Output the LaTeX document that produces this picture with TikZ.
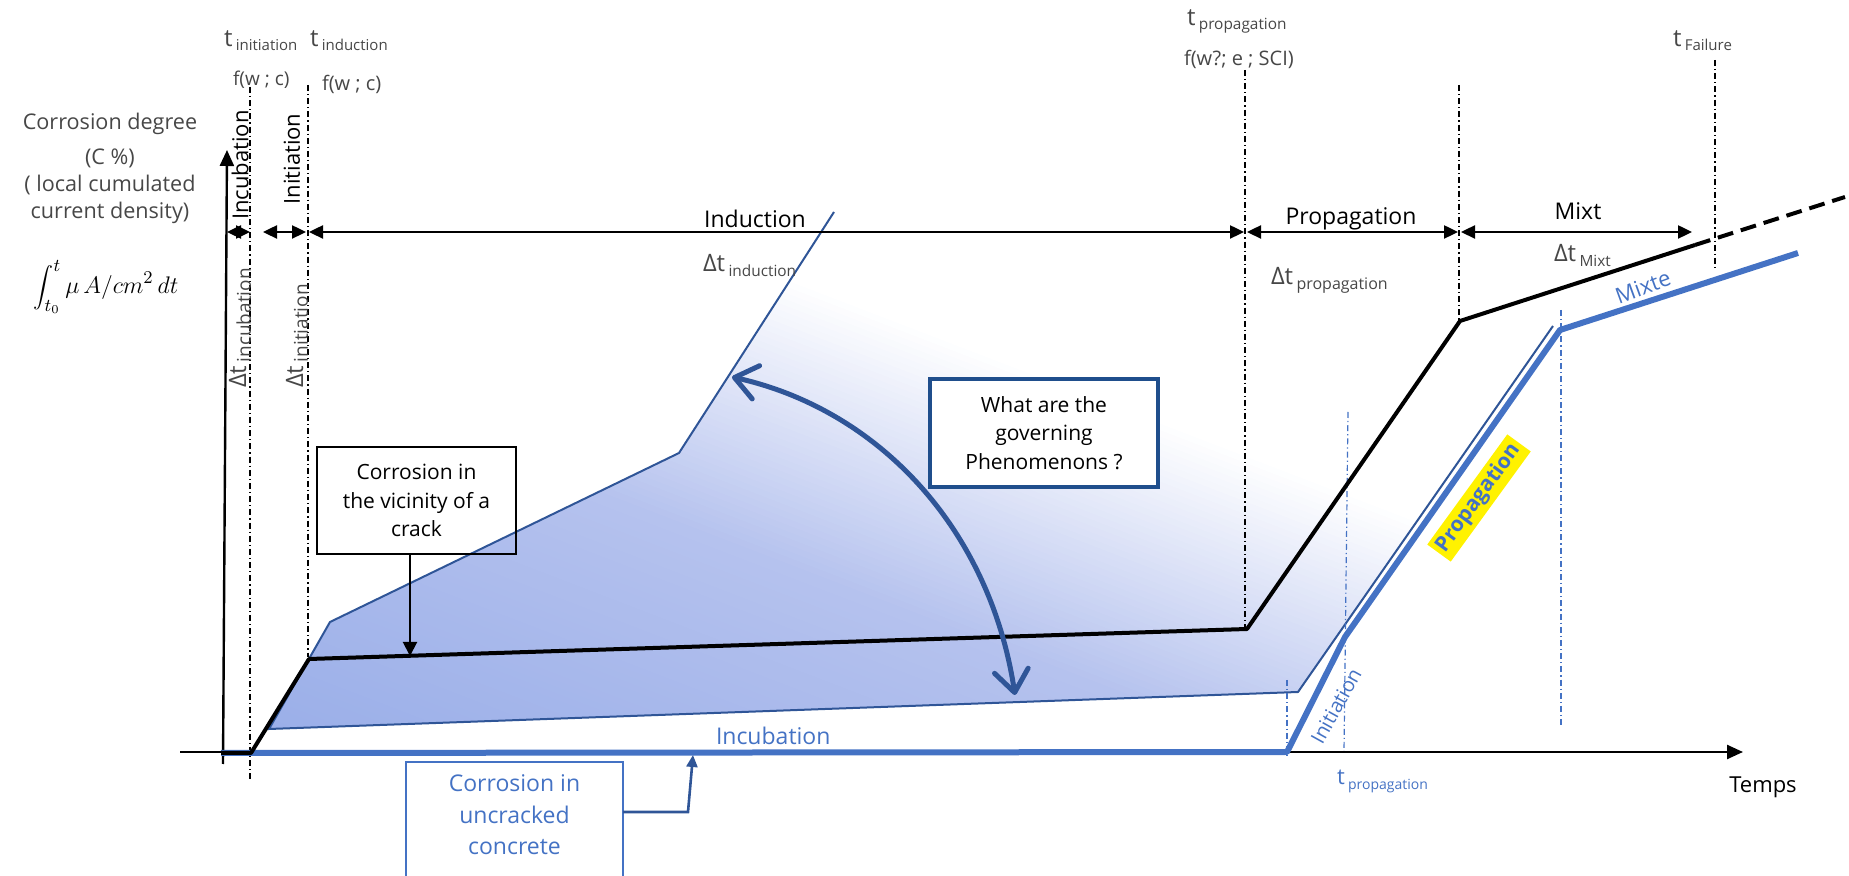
\documentclass[tikz,border=0pt]{standalone}
\usepackage{fontspec}
\setmainfont{Open Sans}
\usetikzlibrary{arrows.meta}
\definecolor{lblgray}{HTML}{474747}
\definecolor{blueline}{HTML}{4472C4}
\definecolor{darkblue}{HTML}{2F5597}
\definecolor{qblue}{HTML}{1F4E8C}
\definecolor{shA}{HTML}{98ADE8}
\definecolor{shB}{HTML}{B5C2EE}
\newcommand\fs[1]{\fontsize{#1}{#1}\selectfont}
\newcommand\tlab[3]{{\fs{12}#1}\,\raisebox{-0.35ex}{\fs{#3}#2}}
\newcommand\dlab[2]{{\fs{12}Δt}\,\raisebox{-0.45ex}{\fs{#2}#1}}
\begin{document}
\begin{tikzpicture}[x=0.5pt,y=-0.5pt,
  every node/.style={inner sep=0pt,outer sep=0pt},
  ddline/.style={line width=0.6pt,dash pattern=on 3pt off 1.5pt on 0.6pt off 1.5pt},
  bddline/.style={ddline,draw=blueline},
  dimarrow/.style={line width=1.2pt,{Triangle[length=7pt,width=6.5pt]}-{Triangle[length=7pt,width=6.5pt]}},
  axisarrow/.style={line width=1.2pt,-{Triangle[length=8pt,width=7pt]}},
  graylbl/.style={text=lblgray},
  phase/.style={font=\fs{11.5},anchor=base},
  ylbl/.style={text=lblgray,font=\fs{10.8},anchor=base}]
\useasboundingbox (0,0) rectangle (1849,876);
\clip (0,0) rectangle (1849,876);

% ---------- shaded zone ----------
\begin{scope}
\clip (269,729) -- (330,622) -- (679,453) -- (834,212) -- (1553,326) -- (1298,692) -- cycle;
\begin{scope}[rotate=-21]
\foreach \i in {0,...,150} {
  \pgfmathsetmacro\p{-640+6*\i}
  \pgfmathsetmacro\qa{640-6*\i}
  \pgfmathsetmacro\qb{633-6*\i}
  \pgfmathsetmacro\ca{max(0,min(100,(\p+620)/370*100))}
  \pgfmathsetmacro\cb{max(0,min(100,(\p+250)/270*100))}
  \ifdim \p pt < -250pt
    \fill[shB!\ca!shA] (-3000,\qa) rectangle (3000,\qb);
  \else
    \fill[white!\cb!shB] (-3000,\qa) rectangle (3000,\qb);
  \fi
}
\end{scope}
\end{scope}
\draw[darkblue,line width=1pt] (1553,326) -- (1298,692) -- (269,729) -- (330,622) -- (679,453) -- (834,212);

% ---------- guide lines ----------
\draw[ddline] (250,87) -- (250,780);
\draw[ddline] (308,85) -- (308,657);
\draw[ddline] (1245,70) -- (1245,629);
\draw[ddline] (1459,85) -- (1459,321);
\draw[ddline] (1715,60) -- (1715,268);
\draw[bddline] (1287,680) -- (1287,758);
\draw[bddline] (1348,412) -- (1344,752);
\draw[bddline] (1561,310) -- (1561,725);

% ---------- axes ----------
\coordinate (xo) at (180,752);
\coordinate (xe) at (1743,752);
\coordinate (yo) at (223,764);
\coordinate (ye) at (227,150);
\draw[axisarrow] (xo) -- (xe);
\draw[axisarrow] (yo) -- (ye);
\node[font=\fs{11}] (temps) at (1763,787) {Temps};

% ---------- curves ----------
\coordinate (b0) at (221,753);
\coordinate (b1) at (1287,752);
\coordinate (b2) at (1345,637);
\coordinate (b3) at (1560,330);
\coordinate (b4) at (1798,253);
\draw[blueline,line width=3pt,line join=round] (b0) -- (b1) -- (b2) -- (b3) -- (b4);

\coordinate (k0) at (221,753);
\coordinate (k1) at (251,753);
\coordinate (k2) at (309,659);
\coordinate (k3) at (1247,629);
\coordinate (k4) at (1460,321);
\coordinate (k5) at (1695,245);
\coordinate (k6) at (1845,197);
\draw[line width=2pt,line join=round] (k0) -- (k1) -- (k2) -- (k3) -- (k4) -- (k5);
\draw[line width=2pt,dash pattern=on 8pt off 4pt] (k5) -- (k6);

% ---------- phase dimension arrows ----------
\coordinate (r0) at (227,232);
\coordinate (r1) at (250,232);
\coordinate (r2) at (263,232);
\coordinate (r3) at (306,232);
\coordinate (r4) at (309,232);
\coordinate (r5) at (1244,232);
\coordinate (r6) at (1247,232);
\coordinate (r7) at (1458,232);
\coordinate (r8) at (1461,232);
\coordinate (r9) at (1692,232);
\draw[dimarrow] (r0) -- (r1);
\draw[dimarrow] (r2) -- (r3);
\draw[dimarrow] (r4) -- (r5);
\draw[dimarrow] (r6) -- (r7);
\draw[dimarrow] (r8) -- (r9);

\node[phase] (lInd) at (755,228) {Induction};
\node[phase] (lProp) at (1351,225) {Propagation};
\node[phase] (lMixt) at (1578,220) {Mixt};
\node[font=\fs{11},rotate=90] (lIncub) at (240,165) {Incubation};
\node[font=\fs{11},rotate=90] (lInit) at (292,159) {Initiation};

\node[graylbl,anchor=base west] (dInd) at (703,272) {\dlab{induction}{7.7}};
\node[graylbl,anchor=base west] (dProp) at (1271,285) {\dlab{propagation}{8}};
\node[graylbl,anchor=base west] (dMixt) at (1554,262) {\dlab{Mixt}{7.7}};
\node[graylbl,rotate=90] (dIncub) at (240,328) {\dlab{incubation}{9.5}};
\node[graylbl,rotate=90] (dInit) at (297,336) {\dlab{initiation}{9.5}};

% ---------- top labels ----------
\node[graylbl,anchor=base west] (tInit) at (224,47) {\tlab{t}{initiation}{7.5}};
\node[graylbl,anchor=base west] (tInd) at (310,47) {\tlab{t}{induction}{7.5}};
\node[graylbl,anchor=base west,font=\fs{9.5}] (fInit) at (233,86) {f(w ; c)};
\node[graylbl,anchor=base west,font=\fs{10}] (fInd) at (322,91) {f(w ; c)};
\node[graylbl,anchor=base west] (tProp) at (1187,26) {\tlab{t}{propagation}{7.7}};
\node[graylbl,anchor=base west,font=\fs{10}] (fProp) at (1184,66) {f(w?; e ; SCI)};
\node[graylbl,anchor=base west] (tFail) at (1673,47) {\tlab{t}{Failure}{7.5}};

% ---------- y axis title ----------
\node[ylbl] (y1) at (110,130) {Corrosion degree};
\node[ylbl] (y2) at (110,165) {(C \%)};
\node[ylbl] (y3) at (110,192) {( local cumulated};
\node[ylbl] (y4) at (110,219) {current density)};
\node[font=\fs{12.5}] (yint) at (106,287) {$\displaystyle\int_{t_0}^{t}\mu\,A/cm^2\,dt$};

% ---------- boxes ----------
\node[draw,line width=0.9pt,minimum width=99.5pt,minimum height=53.5pt,align=center,
  font=\fontsize{10.5}{14.25}\selectfont] (vic) at (416.5,500.5) {Corrosion in\\the vicinity of a\\crack};
\coordinate (vicTip) at (410,656);
\draw[line width=1pt,-{Triangle[length=7pt,width=7pt]}] (vicTip |- vic.south) -- (vicTip);

\coordinate (qA) at (732,377);
\coordinate (qB) at (1015,695);
\draw[darkblue,line width=2.5pt,{Straight Barb[length=11pt,width=17pt,round]}-{Straight Barb[length=11pt,width=17pt,round]}]
  (qA) .. controls (880,410) and (990,530) .. (qB);
\node[draw=qblue,fill=white,line width=1.75pt,minimum width=114pt,minimum height=54pt,align=center,
  font=\fontsize{10.5}{14.25}\selectfont] (qbox) at (1044,433) {What are the\\governing\\Phenomenons ?};

\node[draw=blueline,line width=0.9pt,minimum width=108.5pt,minimum height=69pt] (ucbox) at (514.5,831) {};
\node[text=blueline,align=center,font=\fontsize{11.5}{15.75}\selectfont] (uctext) at (514.5,815) {Corrosion in\\uncracked\\concrete};
\coordinate (ucTip) at (693,755);
\draw[darkblue,line width=1.3pt,-{Triangle[length=6pt,width=5.5pt]}] ([yshift=9.5pt]ucbox.east) -- (688,812) -- (ucTip);

% ---------- blue labels ----------
\node[text=blueline,font=\fs{11.5},anchor=base west] (bInc) at (716,745) {Incubation};
\node[text=blueline,font=\fs{10},rotate=61] (bInit) at (1336,706) {Initiation};
\node[fill=yellow,text=blueline,font=\bfseries\fs{10.5},rotate=54,inner xsep=2pt,inner ysep=2pt] (bProp) at (1479,498) {Propagation};
\node[text=blueline,font=\fs{11},rotate=20] (bMix) at (1643,287) {Mixte};
\node[text=blueline,anchor=base west] (btProp) at (1337,785) {{\fs{11}t}\,\raisebox{-0.4ex}{\fs{7}propagation}};
\end{tikzpicture}
\end{document}
